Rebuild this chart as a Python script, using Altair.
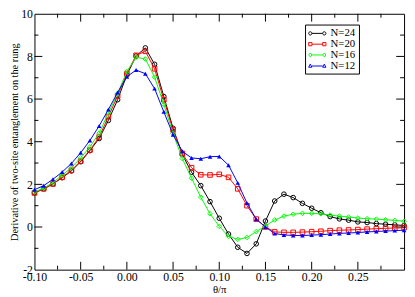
import altair as alt
import pandas as pd

# ---------------- data ----------------
theta = [-0.10, -0.09, -0.08, -0.07, -0.06, -0.05, -0.04, -0.03, -0.02, -0.01,
         0.00, 0.01, 0.02, 0.03, 0.04, 0.05, 0.06, 0.07, 0.08, 0.09,
         0.10, 0.11, 0.12, 0.13, 0.14, 0.15, 0.16, 0.17, 0.18, 0.19,
         0.20, 0.21, 0.22, 0.23, 0.24, 0.25, 0.26, 0.27, 0.28, 0.29, 0.30]

n24 = [1.60, 1.79, 2.02, 2.31, 2.63, 3.06, 3.58, 4.15, 5.00, 5.97,
       7.13, 8.02, 8.40, 7.63, 6.12, 4.63, 3.40, 2.57, 1.94, 1.19,
       0.41, -0.33, -0.95, -1.24, -0.79, 0.28, 1.22, 1.54, 1.38, 1.11,
       0.88, 0.67, 0.49, 0.38, 0.32, 0.24, 0.21, 0.16, 0.13, 0.10, 0.07]

n20 = [1.60, 1.79, 2.02, 2.34, 2.66, 3.09, 3.61, 4.22, 5.18, 6.15,
       7.20, 8.05, 8.24, 7.42, 5.97, 4.55, 3.45, 2.78, 2.45, 2.44,
       2.47, 2.33, 1.79, 1.00, 0.37, 0.00, -0.23, -0.25, -0.25, -0.24,
       -0.22, -0.20, -0.17, -0.15, -0.14, -0.12, -0.10, -0.08, -0.06, -0.05, -0.03]

n16 = [1.65, 1.82, 2.09, 2.43, 2.79, 3.24, 3.76, 4.40, 5.34, 6.27,
       7.29, 7.96, 7.88, 7.03, 5.75, 4.38, 3.21, 2.29, 1.40, 0.62,
       0.03, -0.44, -0.58, -0.49, -0.22, 0.05, 0.33, 0.51, 0.60, 0.64,
       0.64, 0.62, 0.56, 0.51, 0.47, 0.42, 0.39, 0.37, 0.34, 0.31, 0.27]

n12 = [1.75, 1.94, 2.24, 2.58, 2.98, 3.48, 4.06, 4.74, 5.51, 6.31,
       7.05, 7.36, 7.19, 6.49, 5.40, 4.33, 3.55, 3.24, 3.20, 3.30,
       3.31, 2.90, 2.07, 1.12, 0.37, 0.00, -0.31, -0.37, -0.40, -0.40,
       -0.38, -0.36, -0.33, -0.30, -0.28, -0.26, -0.23, -0.21, -0.19, -0.17, -0.15]

series_names = ["N=24", "N=20", "N=16", "N=12"]
series_values = [n24, n20, n16, n12]
series_colors = ["#000000", "#ff0000", "#00ff00", "#0000ff"]
marker_shapes = ["circle", "square", "diamond", "triangle-up"]
marker_filled = [False, False, False, True]

# legend glyphs: line segment with a marker at each end (wide, flat glyphs)
legend_paths = [
    "M-1.0,0L1.0,0M-1.6,0A0.3,0.3,0,1,0,-1.0,0A0.3,0.3,0,1,0,-1.6,0"
    "M1.0,0A0.3,0.3,0,1,0,1.6,0A0.3,0.3,0,1,0,1.0,0",
    "M-1.0,0L1.0,0M-1.6,-0.3L-1.0,-0.3L-1.0,0.3L-1.6,0.3Z"
    "M1.0,-0.3L1.6,-0.3L1.6,0.3L1.0,0.3Z",
    "M-1.0,0L1.0,0M-1.6,0L-1.3,-0.35L-1.0,0L-1.3,0.35Z"
    "M1.0,0L1.3,-0.35L1.6,0L1.3,0.35Z",
    "M-1.0,0.05L1.0,0.05M-1.6,0.28L-1.3,-0.3L-1.0,0.28Z"
    "M1.0,0.28L1.3,-0.3L1.6,0.28Z",
]

x_labels = [-0.10, -0.05, 0.00, 0.05, 0.10, 0.15, 0.20, 0.25]
y_labels = [-2, 0, 2, 4, 6, 8, 10]
x_major = [-0.05, 0.00, 0.05, 0.10, 0.15, 0.20, 0.25]
x_minor = [-0.075, -0.025, 0.025, 0.075, 0.125, 0.175, 0.225, 0.275]
y_major = [0, 2, 4, 6, 8]
y_minor = [-1, 1, 3, 5, 7, 9]

# ---------------- layout ----------------
W, H = 377, 261
FONT = "Liberation Serif"

rows = []
for name, vals in zip(series_names, series_values):
    for t, v in zip(theta, vals):
        rows.append({"theta": t, "value": v, "series": name})
df = pd.DataFrame(rows)

minus_fix = "replace(datum.label, '\u2212', '-')"
X = alt.X("theta:Q",
          scale=alt.Scale(domain=[-0.1, 0.3], nice=False, zero=False),
          axis=alt.Axis(values=x_labels, format=".2f", labelExpr=minus_fix,
                        labelFlush=False, labelPadding=2, titlePadding=1.5,
                        labelFont=FONT, titleFont=FONT, labelFontSize=12,
                        titleFontSize=11, title="\u03b8/\u03c0"))
Y = alt.Y("value:Q",
          scale=alt.Scale(domain=[-2, 10], nice=False, zero=False),
          axis=alt.Axis(values=y_labels, format="d", labelExpr=minus_fix,
                        labelPadding=2, titlePadding=1.5,
                        labelFont=FONT, titleFont=FONT, labelFontSize=12,
                        titleFontSize=10.5,
                        title="Derivative of two-site entanglement on the rung"))

layers = []

# inward tick marks on all four sides
xt_major = pd.DataFrame({"theta": x_major})
xt_minor = pd.DataFrame({"theta": x_minor})
yt_major = pd.DataFrame({"value": y_major})
yt_minor = pd.DataFrame({"value": y_minor})
for d, ln in ((xt_major, 8), (xt_minor, 4)):
    layers.append(alt.Chart(d).mark_rule(color="black", strokeWidth=1).encode(
        x=X, y=alt.value(H), y2=alt.value(H - ln)))
    layers.append(alt.Chart(d).mark_rule(color="black", strokeWidth=1).encode(
        x=X, y=alt.value(0), y2=alt.value(ln)))
for d, ln in ((yt_major, 8), (yt_minor, 4)):
    layers.append(alt.Chart(d).mark_rule(color="black", strokeWidth=1).encode(
        y=Y, x=alt.value(0), x2=alt.value(ln)))
    layers.append(alt.Chart(d).mark_rule(color="black", strokeWidth=1).encode(
        y=Y, x=alt.value(W), x2=alt.value(W - ln)))

# series
for name, col, shp, fil in zip(series_names, series_colors, marker_shapes, marker_filled):
    base = alt.Chart(df).transform_filter(alt.datum.series == name)
    layers.append(base.mark_line(color=col, strokeWidth=1).encode(x=X, y=Y))
    layers.append(base.mark_point(shape=shp, filled=fil, color=col, size=22,
                                  strokeWidth=1, opacity=1).encode(x=X, y=Y))

# legend (built from scales, no visible marks)
leg_df = pd.DataFrame({"leg": series_names})
leg_props = dict(orient="none", legendX=276, legendY=11, title=None,
                 strokeColor="black", fillColor="white", padding=3,
                 labelFont=FONT, labelFontSize=11, labelColor="black",
                 symbolSize=121, symbolStrokeWidth=1, rowPadding=-1,
                 symbolOffset=3.5, labelOffset=7.5, labelLimit=0)
layers.append(
    alt.Chart(leg_df).transform_filter("datum.leg == 'none'")
    .mark_point(filled=False, opacity=1, strokeWidth=1)
    .encode(
        x=X, y=alt.value(0),
        color=alt.Color("leg:N", scale=alt.Scale(domain=series_names, range=series_colors),
                        legend=alt.Legend(**leg_props)),
        shape=alt.Shape("leg:N", scale=alt.Scale(domain=series_names, range=legend_paths),
                        legend=alt.Legend(**leg_props)),
    )
)

chart = (
    alt.layer(*layers)
    .properties(width=W, height=H,
                autosize=alt.AutoSizeParams(type="none"),
                padding={"left": 27, "top": 3, "right": 3, "bottom": 25},
                background="white")
    .configure_view(stroke="black", strokeWidth=1)
    .configure_axis(labelFont=FONT, titleFont=FONT, labelFontSize=12, titleFontSize=11,
                    titleFontWeight="normal", labelColor="black", titleColor="black",
                    domain=False, ticks=False, grid=False)
)

chart.save("out.html", embed_options={"renderer": "svg", "actions": False})
